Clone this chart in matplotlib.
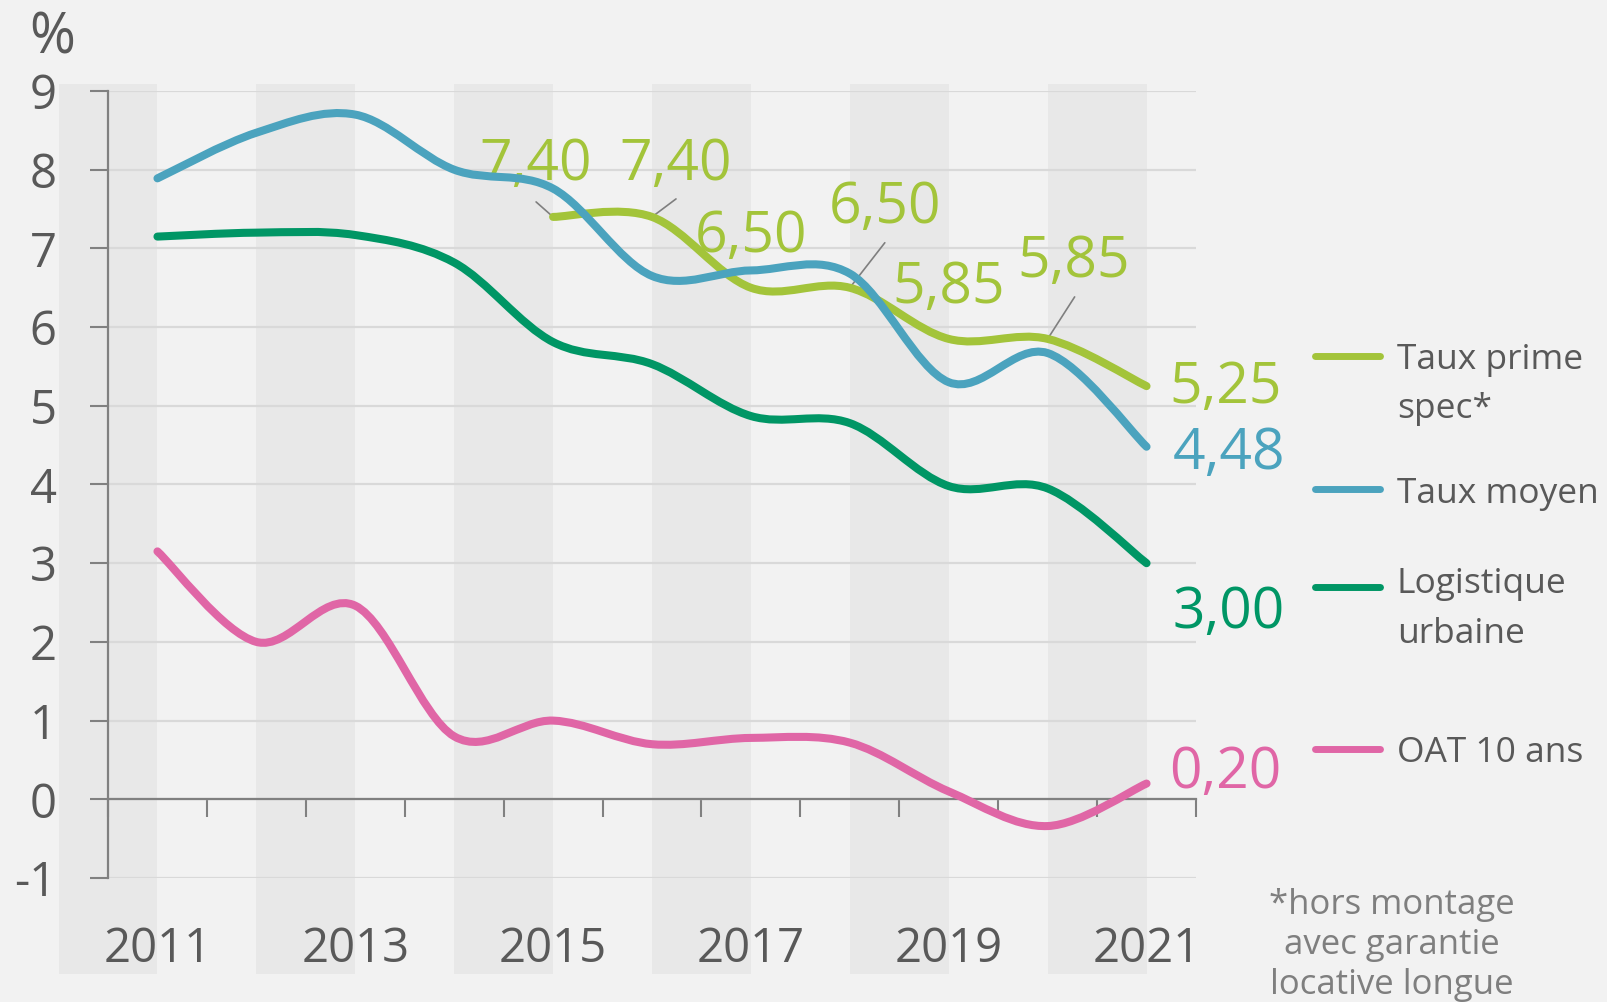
import numpy as np
import matplotlib.pyplot as plt
from matplotlib.path import Path
from matplotlib.patches import PathPatch

plt.rcParams['font.family'] = ['Open Sans', 'DejaVu Sans']
plt.rcParams['axes.unicode_minus'] = False

# data
years = list(range(2011, 2022))
taux_moyen = [7.89, 8.47, 8.70, 8.00, 7.76, 6.65, 6.72, 6.68, 5.30, 5.67, 4.48]
logistique = [7.15, 7.20, 7.17, 6.82, 5.81, 5.53, 4.87, 4.78, 3.98, 3.95, 3.00]
oat_10 = [3.15, 2.00, 2.46, 0.80, 1.00, 0.70, 0.78, 0.72, 0.10, -0.34, 0.20]
prime_years = list(range(2015, 2022))
taux_prime = [7.40, 7.40, 6.50, 6.50, 5.85, 5.85, 5.25]

names = ['Taux prime\nspec*', 'Taux moyen', 'Logistique\nurbaine', 'OAT 10 ans']
colors = ['#a3c43a', '#4ba3be', '#009665', '#e066a6']
year_labels = ['2011', '2013', '2015', '2017', '2019', '2021']

W, H = 1608, 1002
BG = '#f2f2f2'
BAND = '#e8e8e8'
TXT = '#595959'
AX = '#808080'


def fx(px):
    return px / W


def fy(py):
    return 1 - py / H


def fmt(v):
    return f'{v:.2f}'.replace('.', ',')


def smooth_path(x, y):
    # Excel-like smoothed line (Catmull-Rom through the points)
    pts = np.column_stack([x, y]).astype(float)
    pad = np.vstack([pts[0], pts, pts[-1]])
    verts = [pts[0]]
    codes = [Path.MOVETO]
    for i in range(len(pts) - 1):
        p0, p1, p2, p3 = pad[i], pad[i + 1], pad[i + 2], pad[i + 3]
        verts += [p1 + (p2 - p0) / 6, p2 - (p3 - p1) / 6, p2]
        codes += [Path.CURVE4] * 3
    return Path(verts, codes)


fig = plt.figure(figsize=(W / 100, H / 100), dpi=100, facecolor=BG)
ax = fig.add_axes([fx(108), fy(878), fx(1196 - 108), (878 - 91) / H])
ax.set_facecolor('none')
ax.set_xlim(2010.5, 2021.5)
ax.set_ylim(-1, 9)

# alternating background bands
for start in range(2010, 2021, 2):
    ax.axvspan(start, start + 1, ymin=-0.122, ymax=1.009, color=BAND,
               lw=0, zorder=0, clip_on=False)

# axes styling
ax.set_yticks(range(-1, 10))
ax.grid(axis='y', color='#d9d9d9', lw=1.6, zorder=1)
for s in ['top', 'right']:
    ax.spines[s].set_visible(False)
ax.spines['bottom'].set_position(('data', 0))
ax.spines['bottom'].set_color(AX)
ax.spines['left'].set_color(AX)
ax.spines['bottom'].set_linewidth(1.6)
ax.spines['left'].set_linewidth(1.6)
ax.spines['bottom'].set_zorder(2)

ax.tick_params(axis='y', direction='out', length=13, width=1.5, color=AX,
               labelsize=34, labelcolor=TXT, pad=24)
ax.set_xticks([int(y) for y in year_labels])
ax.set_xticklabels(year_labels)
ax.set_xticks(np.arange(2010.5, 2022, 1.0), minor=True)
ax.tick_params(axis='x', which='major', length=0, labelsize=34,
               labelcolor=TXT, pad=91)
ax.tick_params(axis='x', which='minor', direction='out', length=13,
               width=1.5, color=AX)

# series
series = [(prime_years, taux_prime), (years, taux_moyen),
          (years, logistique), (years, oat_10)]
order = [3, 2, 0, 1]
for k in order:
    xs, ys = series[k]
    ax.add_patch(PathPatch(smooth_path(xs, ys), fill=False,
                           edgecolor=colors[k], lw=5.8, capstyle='round',
                           joinstyle='round', zorder=4))

# value labels for taux prime (offsets in pixels, leader line offsets)
prime_offsets = [(-17, 37, (-17, 15)), (24, 37, (24, 18)), (0, 36, None),
                 (35, 65, (35, 45)), (0, 36, None), (26, 62, (27, 42))]
for (yr, v), (dx, dy, lead) in zip(zip(prime_years[:-1], taux_prime[:-1]),
                                   prime_offsets):
    ax.annotate(fmt(v), (yr, v), xytext=(dx, dy), textcoords='offset pixels',
                ha='center', va='baseline', fontsize=41, color=colors[0],
                zorder=3, annotation_clip=False)
    if lead is not None:
        ax.annotate('', (yr, v), xytext=lead, textcoords='offset pixels',
                    arrowprops=dict(arrowstyle='-', color='#7f7f7f', lw=1.2,
                                    shrinkA=0, shrinkB=0), zorder=3)

# end labels
end_offsets = [(23, -17), (26, -22), (26, -65), (23, -4)]
for k, (dx, dy) in enumerate(end_offsets):
    xs, ys = series[k]
    ax.annotate(fmt(ys[-1]), (xs[-1], ys[-1]), xytext=(dx, dy),
                textcoords='offset pixels', ha='left', va='baseline',
                fontsize=41, color=colors[k], annotation_clip=False)

# legend
leg_line_y = [356, 489, 587, 749]
leg_text_y = [[369, 418], [503], [593, 643], [762]]
for k in range(4):
    fig.add_artist(plt.Line2D([fx(1315), fx(1380)],
                              [fy(leg_line_y[k])] * 2, color=colors[k],
                              lw=5, solid_capstyle='round'))
    for line, py in zip(names[k].split('\n'), leg_text_y[k]):
        fig.text(fx(1397), fy(py), line, fontsize=25.5, color=TXT,
                 ha='left', va='baseline')

# unit and footnote
fig.text(fx(29), fy(53), '%', fontsize=40, color=TXT, ha='left', va='baseline')
for line, py in zip(['*hors montage', 'avec garantie', 'locative longue'],
                    [914, 954, 994]):
    fig.text(fx(1392), fy(py), line, fontsize=25, color='#7f7f7f',
             ha='center', va='baseline')

fig.savefig('out.png', dpi=100, facecolor=BG)
